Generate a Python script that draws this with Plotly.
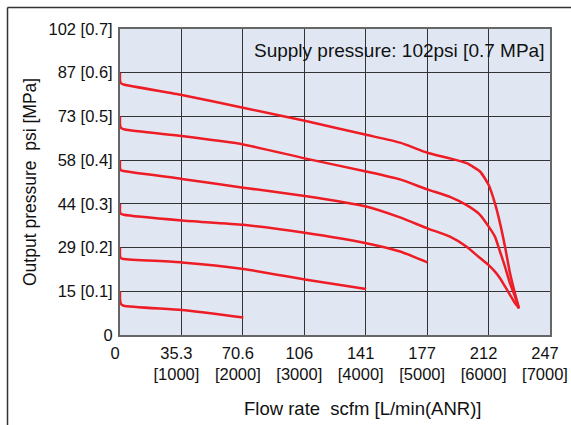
import plotly.graph_objs as go

# flow rate in L/min(ANR), output pressure in MPa
flow_06 = [0, 0, 15, 60, 1005, 2003, 3008, 4007, 4558, 5002, 5372, 5644, 5861, 6002, 6104, 6186, 6268, 6349, 6430, 6495]
pres_06 = [0.600, 0.583, 0.576, 0.573, 0.549, 0.520, 0.490, 0.458, 0.440, 0.417, 0.404, 0.393, 0.374, 0.343, 0.301, 0.256, 0.202, 0.141, 0.095, 0.061]

flow_05 = [0, 0, 15, 80, 1005, 2008, 3008, 4007, 4558, 5002, 5372, 5644, 5861, 6002, 6104, 6186, 6268, 6349, 6430, 6495]
pres_05 = [0.500, 0.482, 0.474, 0.470, 0.455, 0.436, 0.404, 0.374, 0.356, 0.333, 0.316, 0.297, 0.275, 0.248, 0.225, 0.191, 0.156, 0.118, 0.088, 0.061]

flow_04 = [0, 0, 15, 60, 1005, 2008, 3008, 4007, 4558, 5002, 5372, 5644, 5861, 6002, 6104, 6186, 6268, 6349, 6430, 6495]
pres_04 = [0.400, 0.382, 0.377, 0.375, 0.357, 0.337, 0.318, 0.294, 0.269, 0.244, 0.225, 0.202, 0.176, 0.160, 0.145, 0.130, 0.111, 0.092, 0.073, 0.061]

flow_03 = [0, 0, 15, 60, 1005, 2008, 3008, 4007, 4560, 5005]
pres_03 = [0.300, 0.282, 0.277, 0.275, 0.262, 0.252, 0.234, 0.210, 0.191, 0.166]

flow_02 = [0, 0, 15, 60, 1005, 2008, 3008, 4007]
pres_02 = [0.200, 0.182, 0.176, 0.174, 0.166, 0.151, 0.127, 0.105]

flow_01 = [0, 0, 15, 60, 1005, 2008]
pres_01 = [0.100, 0.082, 0.071, 0.067, 0.057, 0.040]

x_ticks = [0, 1000, 2000, 3000, 4000, 5000, 6000, 7000]
x_labels = ['0', '35.3<br>[1000]', '70.6<br>[2000]', '106<br>[3000]', '141<br>[4000]',
            '177<br>[5000]', '212<br>[6000]', '247<br>[7000]']
y_ticks = [0, 0.1, 0.2, 0.3, 0.4, 0.5, 0.6, 0.7]
y_labels = ['0', '15 [0.1]', '29 [0.2]', '44 [0.3]', '58 [0.4]', '73 [0.5]', '87 [0.6]', '102 [0.7]']

curves = [(flow_06, pres_06), (flow_05, pres_05), (flow_04, pres_04),
          (flow_03, pres_03), (flow_02, pres_02), (flow_01, pres_01)]

fig = go.Figure()
for fx, fy in curves:
    fig.add_trace(
        go.Scatter(x=fx, y=fy, mode='lines', showlegend=False, hoverinfo='skip',
                   line=dict(color='#ee1c25', width=2.5, shape='spline', smoothing=0.5))
    )

font_main = 'Liberation Sans, Arial, sans-serif'

fig.update_xaxes(range=[0, 7000], tickvals=x_ticks, ticktext=x_labels, automargin=False,
                 showgrid=True, gridcolor='#333333', gridwidth=1,
                 showline=True, mirror=True, linecolor='#666666', linewidth=2,
                 zeroline=False, ticks='', ticklabelstandoff=2, ticklabelshift=-5,
                 tickfont=dict(size=16.5, color='#111111', family=font_main))
fig.update_yaxes(range=[0, 0.7], tickvals=y_ticks, ticktext=y_labels, automargin=False,
                 showgrid=True, gridcolor='#333333', gridwidth=1,
                 showline=True, mirror=True, linecolor='#666666', linewidth=2,
                 zeroline=False, ticks='', ticklabelstandoff=2,
                 tickfont=dict(size=16.5, color='#111111', family=font_main))

fig.update_layout(
    width=571, height=425,
    margin={"l": 120, "r": 21, "t": 29, "b": 90},
    paper_bgcolor='white',
    plot_bgcolor='#e0e7f3',
    font=dict(family=font_main, color='#111111'),
    annotations=[
        dict(text='Supply pressure: 102psi [0.7 MPa]', xref='x', yref='paper',
             x=7000, y=1, xanchor='right', yanchor='top', xshift=-4, yshift=-9,
             showarrow=False, font=dict(size=19, color='#111111')),
        dict(text='Flow rate\u00a0 scfm [L/min(ANR)]', xref='paper', yref='paper',
             x=0.563, y=-0.24, xanchor='center', yanchor='middle',
             showarrow=False, font=dict(size=18.5, color='#111111')),
        dict(text='Output pressure\u00a0 psi [MPa]', xref='paper', yref='paper',
             x=0, y=0.5, xanchor='center', yanchor='middle', xshift=-90,
             textangle=-90, showarrow=False, font=dict(size=17.5, color='#111111')),
    ],
    shapes=[
        dict(type='line', xref='paper', yref='paper', x0=-0.2616, x1=1.2, y0=1.0703, y1=1.0703,
             line=dict(color='#333333', width=1.5), layer='above'),
        dict(type='line', xref='paper', yref='paper', x0=-0.2616, x1=-0.2616, y0=1.0703, y1=-0.4,
             line=dict(color='#333333', width=1.5), layer='above'),
    ],
)

fig.write_html("out.html", config={'displayModeBar': False},
               post_script="document.body.style.margin='0px';")
